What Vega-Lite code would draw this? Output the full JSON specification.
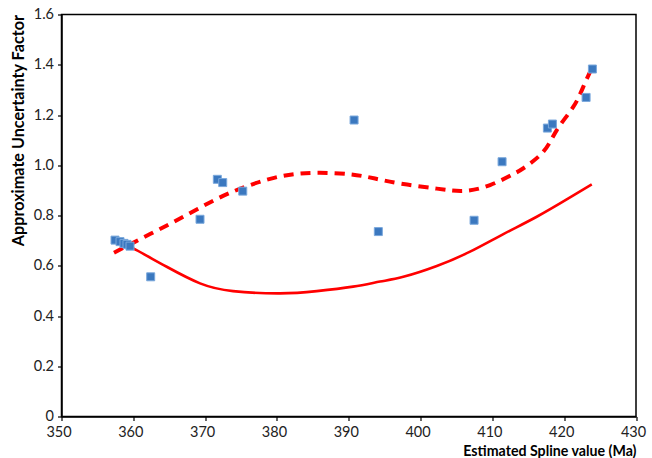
{
  "$schema": "https://vega.github.io/schema/vega-lite/v6.json",
  "width": 574.5,
  "height": 402,
  "autosize": {"type": "none"},
  "padding": {"left": 61.5, "top": 14.5, "right": 16, "bottom": 41.5},
  "background": "white",
  "config": {
    "font": "Lato",
    "view": {"stroke": "black", "strokeWidth": 1.5},
    "axis": {
      "grid": false,
      "domainColor": "black",
      "domainWidth": 1.5,
      "tickColor": "black",
      "tickWidth": 1.2,
      "tickSize": 4,
      "labelColor": "#222",
      "labelFontSize": 14.5,
      "labelFont": "Lato",
      "titleFont": "Lato",
      "titleFontWeight": "bold",
      "titleColor": "black"
    }
  },
  "datasets": {
    "obs": [
      {"age": 357.45, "factor": 0.702},
      {"age": 358.15, "factor": 0.696},
      {"age": 358.7, "factor": 0.689},
      {"age": 359.12, "factor": 0.685},
      {"age": 359.54, "factor": 0.678},
      {"age": 362.42, "factor": 0.556},
      {"age": 369.29, "factor": 0.785},
      {"age": 371.7, "factor": 0.944},
      {"age": 372.45, "factor": 0.931},
      {"age": 375.24, "factor": 0.897},
      {"age": 390.74, "factor": 1.18},
      {"age": 394.12, "factor": 0.736},
      {"age": 407.45, "factor": 0.781},
      {"age": 411.35, "factor": 1.014},
      {"age": 417.66, "factor": 1.148},
      {"age": 418.36, "factor": 1.164},
      {"age": 423.05, "factor": 1.27},
      {"age": 423.93, "factor": 1.383}
    ],
    "lower": [
      {"age": 357.45, "factor": 0.705},
      {"age": 360.0, "factor": 0.669},
      {"age": 364.65, "factor": 0.596},
      {"age": 369.29, "factor": 0.53},
      {"age": 373.89, "factor": 0.499},
      {"age": 380.43, "factor": 0.49},
      {"age": 385.54, "factor": 0.499},
      {"age": 390.6, "factor": 0.517},
      {"age": 394.36, "factor": 0.537},
      {"age": 397.6, "factor": 0.556},
      {"age": 402.26, "factor": 0.599},
      {"age": 406.89, "factor": 0.656},
      {"age": 411.53, "factor": 0.726},
      {"age": 416.18, "factor": 0.795},
      {"age": 420.82, "factor": 0.872},
      {"age": 423.84, "factor": 0.924}
    ],
    "upper": [
      {"age": 357.31, "factor": 0.652},
      {"age": 362.33, "factor": 0.726},
      {"age": 366.96, "factor": 0.795},
      {"age": 371.62, "factor": 0.866},
      {"age": 376.25, "factor": 0.921},
      {"age": 380.89, "factor": 0.958},
      {"age": 385.54, "factor": 0.97},
      {"age": 390.18, "factor": 0.964},
      {"age": 393.66, "factor": 0.947},
      {"age": 397.6, "factor": 0.925},
      {"age": 402.26, "factor": 0.907},
      {"age": 405.96, "factor": 0.898},
      {"age": 409.68, "factor": 0.921},
      {"age": 412.92, "factor": 0.965},
      {"age": 414.32, "factor": 0.988},
      {"age": 417.1, "factor": 1.054},
      {"age": 418.97, "factor": 1.14},
      {"age": 421.28, "factor": 1.233},
      {"age": 422.67, "factor": 1.313},
      {"age": 423.84, "factor": 1.386}
    ]
  },
  "encoding": {
    "x": {
      "field": "age",
      "type": "quantitative",
      "scale": {"domain": [350, 430], "nice": false, "zero": false},
      "axis": {
        "values": [350, 360, 370, 380, 390, 400, 410, 420, 430],
        "title": "Estimated Spline value (Ma)",
        "titleFontSize": 14.2,
        "titleAnchor": "end",
        "titlePadding": 5,
        "labelPadding": 5,
        "labelOffset": -3,
        "labelFlush": false
      }
    },
    "y": {
      "field": "factor",
      "type": "quantitative",
      "scale": {"domain": [0, 1.6], "nice": false},
      "axis": {
        "values": [0, 0.2, 0.4, 0.6, 0.8, 1.0, 1.2, 1.4, 1.6],
        "labelExpr": "datum.value == 0 ? '0' : format(datum.value, '.1f')",
        "title": "Approximate Uncertainty Factor",
        "titleFontSize": 16.2,
        "titleAnchor": "end",
        "titlePadding": 7,
        "labelPadding": 4,
        "labelFlush": false
      }
    }
  },
  "layer": [
    {
      "data": {"name": "lower"},
      "mark": {"type": "line", "color": "#ff0000", "strokeWidth": 2.6, "interpolate": "natural"}
    },
    {
      "data": {"name": "upper"},
      "mark": {"type": "line", "color": "#ff0000", "strokeWidth": 4, "strokeDash": [10, 7], "interpolate": "natural"}
    },
    {
      "data": {"name": "obs"},
      "mark": {"type": "square", "size": 64, "filled": true, "color": "#3b78bf", "stroke": "#7aa8dc", "strokeWidth": 1, "opacity": 1}
    }
  ]
}
